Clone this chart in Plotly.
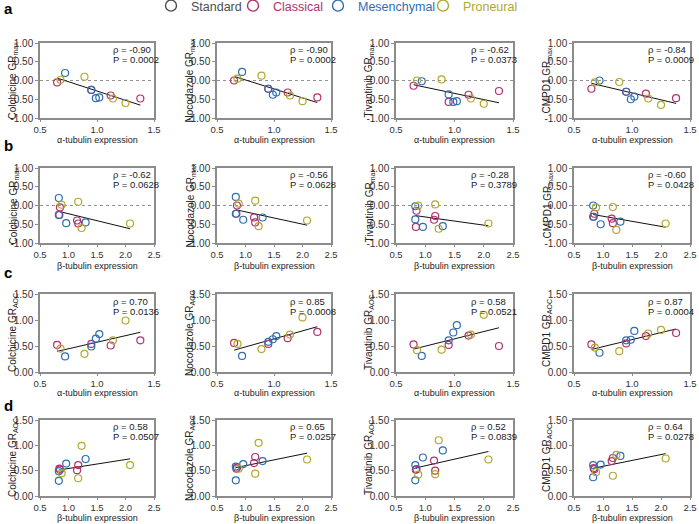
import numpy as np
import plotly.graph_objects as go

# ---------------- data ----------------
subtypes = ["Classical"] * 4 + ["Mesenchymal"] * 4 + ["Proneural"] * 4
alpha_expr = [0.65, 0.95, 1.12, 1.38, 0.72, 0.95, 0.99, 1.02, 0.68, 0.89, 1.14, 1.25]
beta_expr = [0.85, 0.84, 1.15, 1.17, 0.83, 0.83, 0.96, 1.30, 0.88, 1.17, 2.08, 1.23]

drugs = ["Colchicine", "Nocodazole", "Tivantinib", "CMPD1"]

colchicine_grmax = [-0.05, -0.25, -0.40, -0.48, 0.20, -0.25, -0.47, -0.45, 0.02, 0.10, -0.48, -0.60]
nocodazole_grmax = [0.00, -0.22, -0.32, -0.45, 0.23, -0.22, -0.38, -0.32, 0.05, 0.13, -0.40, -0.55]
tivantinib_grmax = [-0.14, -0.57, -0.38, -0.28, -0.02, -0.37, -0.57, -0.55, 0.00, 0.03, -0.48, -0.62]
cmpd1_grmax = [-0.22, -0.30, -0.35, -0.47, 0.00, -0.30, -0.50, -0.43, -0.05, -0.04, -0.48, -0.65]

colchicine_graoc = [0.52, 0.54, 0.51, 0.61, 0.30, 0.49, 0.64, 0.73, 0.45, 0.35, 0.61, 0.99]
nocodazole_graoc = [0.56, 0.54, 0.65, 0.77, 0.31, 0.58, 0.63, 0.69, 0.54, 0.44, 0.72, 1.05]
tivantinib_graoc = [0.53, 0.52, 0.70, 0.50, 0.31, 0.61, 0.76, 0.90, 0.42, 0.43, 0.72, 1.10]
cmpd1_graoc = [0.53, 0.55, 0.69, 0.75, 0.37, 0.61, 0.62, 0.79, 0.47, 0.40, 0.74, 0.81]

rho_a = ["-0.90", "-0.90", "-0.62", "-0.84"]
p_a = ["0.0002", "0.0002", "0.0373", "0.0009"]
rho_b = ["-0.62", "-0.56", "-0.28", "-0.60"]
p_b = ["0.0628", "0.0628", "0.3789", "0.0428"]
rho_c = ["0.70", "0.85", "0.58", "0.87"]
p_c = ["0.0136", "0.0008", "0.0521", "0.0004"]
rho_d = ["0.58", "0.65", "0.52", "0.64"]
p_d = ["0.0507", "0.0257", "0.0839", "0.0278"]

legend_labels = ["Standard", "Classical", "Mesenchymal", "Proneural"]
alpha_ticks = [0.5, 1.0, 1.5]
beta_ticks = [0.5, 1.0, 1.5, 2.0, 2.5]
grmax_ticks = [-1.0, -0.5, 0.0, 0.5, 1.0]
graoc_ticks = [0.0, 0.5, 1.0, 1.5]

# ---------------- style ----------------
colors = {"Standard": "#4d4d4d", "Classical": "#b3316f",
          "Mesenchymal": "#2f6db3", "Proneural": "#b2a82b"}
W, H = 699, 524
FONT = "Liberation Sans, Arial, sans-serif"
frame_col = "#8c8c8c"
col_px = [(40, 154), (217, 331), (396, 513), (574, 690)]
row_px = [(43, 118), (168, 243), (294, 372), (420, 496)]
xtitle_gap_px = [22, 23, 21, 22]
letter_px = [8, 145, 272, 405]
legend_circle_px = [175, 257, 342, 447]

grmax_sets = [colchicine_grmax, nocodazole_grmax, tivantinib_grmax, cmpd1_grmax]
graoc_sets = [colchicine_graoc, nocodazole_graoc, tivantinib_graoc, cmpd1_graoc]
rows = [
    ("a", alpha_expr, grmax_sets, "α-tubulin expression", "max", rho_a, p_a, alpha_ticks, grmax_ticks),
    ("b", beta_expr, grmax_sets, "β-tubulin expression", "max", rho_b, p_b, beta_ticks, grmax_ticks),
    ("c", alpha_expr, graoc_sets, "α-tubulin expression", "AOC", rho_c, p_c, alpha_ticks, graoc_ticks),
    ("d", beta_expr, graoc_sets, "β-tubulin expression", "AOC", rho_d, p_d, beta_ticks, graoc_ticks),
]

fig = go.Figure()
annotations = []
shapes = []
layout_axes = {}

k = 0
for r, (letter, xvals, ysets, xtitle, sub, rhos, ps, xt, yt) in enumerate(rows):
    y0px, y1px = row_px[r]
    annotations.append(dict(text="<b>%s</b>" % letter, xref="paper", yref="paper",
                            x=2 / W, y=1 - letter_px[r] / H, xanchor="left", yanchor="middle",
                            showarrow=False, font=dict(size=15, color="#000", family=FONT)))
    for c in range(4):
        k += 1
        x0px, x1px = col_px[c]
        xa = "x" if k == 1 else "x%d" % k
        ya = "y" if k == 1 else "y%d" % k
        xkey = "xaxis" if k == 1 else "xaxis%d" % k
        ykey = "yaxis" if k == 1 else "yaxis%d" % k
        yvals = ysets[c]
        xarr = np.array(xvals)
        yarr = np.array(yvals)

        # regression line
        m, b = np.polyfit(xarr, yarr, 1)
        xl = np.array([xarr.min(), xarr.max()])
        fig.add_trace(go.Scatter(x=xl, y=m * xl + b, mode="lines", xaxis=xa, yaxis=ya,
                                 line=dict(color="#111", width=1), showlegend=False,
                                 hoverinfo="skip"))
        for st in ["Classical", "Mesenchymal", "Proneural"]:
            idx = [i for i, s in enumerate(subtypes) if s == st]
            fig.add_trace(go.Scatter(x=[xvals[i] for i in idx], y=[yvals[i] for i in idx],
                                     mode="markers", xaxis=xa, yaxis=ya, showlegend=False,
                                     marker=dict(symbol="circle-open", size=7,
                                                 color=colors[st], line=dict(width=1.2))))

        xr = [xt[0], xt[-1]]
        yr = [yt[0], yt[-1]]
        common = dict(showline=True, mirror=True, linecolor=frame_col, linewidth=1.5,
                      ticks="outside", tickcolor=frame_col, tickwidth=1,
                      showgrid=False, zeroline=False, automargin=False)
        layout_axes[xkey] = dict(domain=[x0px / W, x1px / W], range=xr, anchor=ya, ticklen=2,
                                 tickvals=xt, ticktext=["%.1f" % v for v in xt],
                                 tickfont=dict(size=9.5, color="#333", family=FONT), **common)
        layout_axes[ykey] = dict(domain=[1 - y1px / H, 1 - y0px / H], range=yr, anchor=xa, ticklen=3,
                                 tickvals=yt, ticktext=["%.2f" % v for v in yt],
                                 tickfont=dict(size=10, color="#333", family=FONT), **common)
        if sub == "max":
            shapes.append(dict(type="line", xref="%s domain" % xa, yref=ya, x0=0, x1=1, y0=0, y1=0,
                               line=dict(color="#777", width=0.8, dash="dot"), layer="below"))
        # stats text
        annotations.append(dict(text="ρ = %s" % rhos[c], xref="%s domain" % xa, yref="%s domain" % ya,
                                x=0.62, y=0.91, xanchor="left", yanchor="middle", showarrow=False,
                                font=dict(size=9.5, color="#222", family=FONT)))
        annotations.append(dict(text="P = %s" % ps[c], xref="%s domain" % xa, yref="%s domain" % ya,
                                x=0.62, y=0.78, xanchor="left", yanchor="middle", showarrow=False,
                                font=dict(size=9.5, color="#222", family=FONT)))
        # axis titles
        annotations.append(dict(text="%s GR<sub>%s</sub>" % (drugs[c], sub), xref="paper", yref="paper",
                                x=(x0px - 27) / W, y=1 - (y0px + y1px) / 2 / H, textangle=-90,
                                xanchor="center", yanchor="middle", showarrow=False,
                                font=dict(size=10, color="#222", family=FONT)))
        annotations.append(dict(text=xtitle, xref="paper", yref="paper",
                                x=(x0px + x1px) / 2 / W, y=1 - (y1px + xtitle_gap_px[r]) / H,
                                xanchor="center", yanchor="middle", showarrow=False,
                                font=dict(size=9, color="#222", family=FONT)))

# legend-only traces, each in its own legend box
legend_layouts = {}
for i, lab in enumerate(legend_labels):
    lname = "legend" if i == 0 else "legend%d" % (i + 1)
    fig.add_trace(go.Scatter(x=[None], y=[None], mode="markers", legend=lname,
                             name='<span style="color:%s">%s</span>' % (colors[lab], lab),
                             marker=dict(symbol="circle-open", size=11, color=colors[lab],
                                         line=dict(width=1.4)),
                             showlegend=True))
    legend_layouts[lname] = dict(orientation="h", x=(legend_circle_px[i] - 24) / W, y=1 + 9 / H,
                                 xanchor="left", yanchor="top", itemwidth=30,
                                 font=dict(size=12.5, family=FONT), bgcolor="rgba(0,0,0,0)")

fig.update_layout(
    template="none",
    width=W, height=H,
    margin=dict(l=0, r=0, t=0, b=0, autoexpand=False),
    paper_bgcolor="white", plot_bgcolor="white",
    font=dict(family=FONT, size=10, color="#222"),
    showlegend=True,
    annotations=annotations,
    shapes=shapes,
    **legend_layouts,
    **layout_axes,
)

fig.write_html("out.html", config={"displayModeBar": False},
               post_script="document.body.style.margin='0px';")
